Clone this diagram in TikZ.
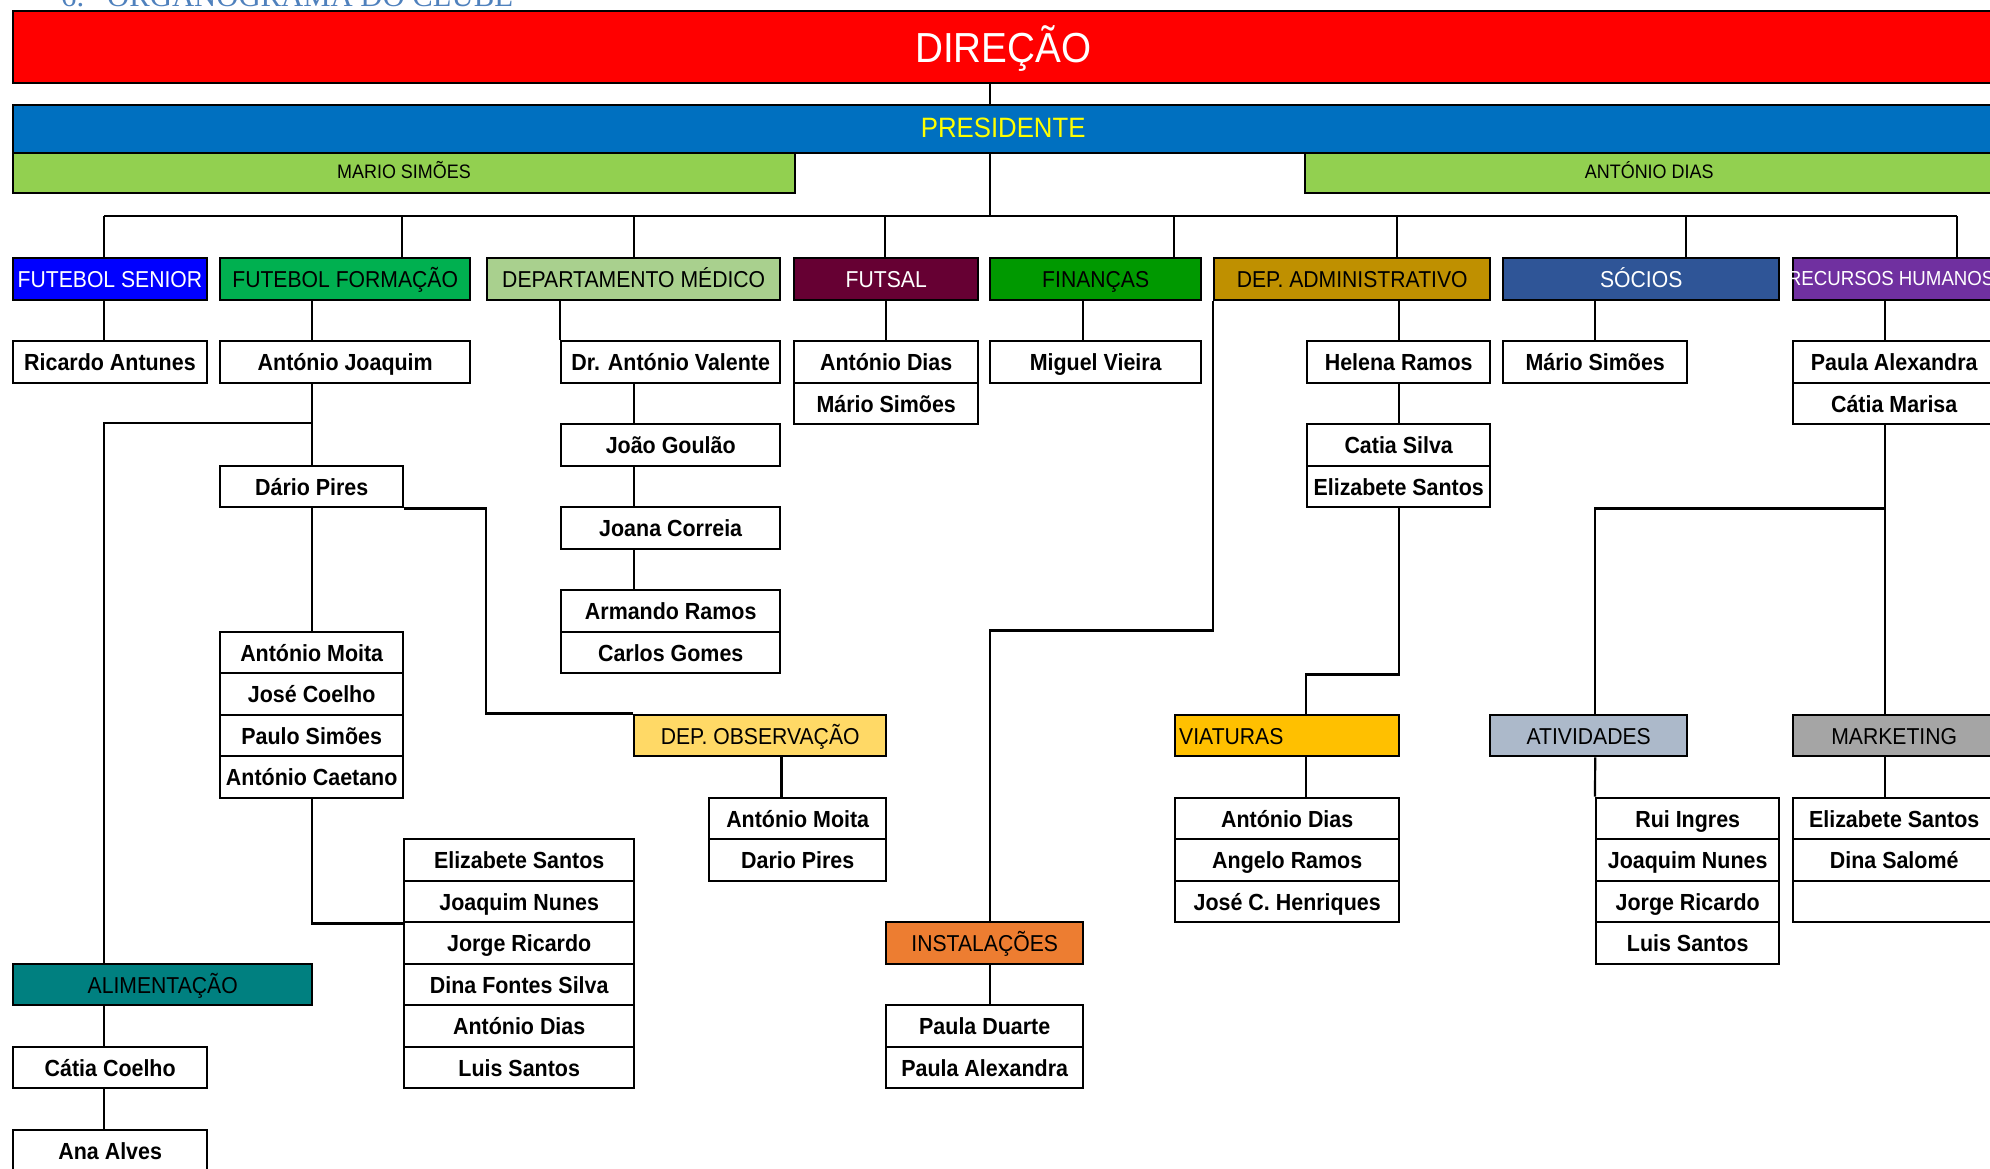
\documentclass[tikz,border=0pt]{standalone}
\usepackage{fontspec}
\setmainfont{Liberation Sans}[FakeStretch=0.92]
\newfontfamily\headfont{Liberation Serif}

\definecolor{titleblue}{HTML}{4F81BD}
\definecolor{dirred}{HTML}{FF0000}
\definecolor{presblue}{HTML}{0070C0}
\definecolor{presyellow}{HTML}{FFFF00}
\definecolor{vplime}{HTML}{92D050}
\definecolor{senblue}{HTML}{0000FF}
\definecolor{formgreen}{HTML}{00B050}
\definecolor{medgreen}{HTML}{A9D08E}
\definecolor{futsalred}{HTML}{660033}
\definecolor{fingreen}{HTML}{009900}
\definecolor{admgold}{HTML}{BF9000}
\definecolor{socblue}{HTML}{2F5597}
\definecolor{rhpurple}{HTML}{7030A0}
\definecolor{obsyellow}{HTML}{FFD966}
\definecolor{viatorange}{HTML}{FFC000}
\definecolor{ativgrey}{HTML}{ACB9CA}
\definecolor{mktgrey}{HTML}{A5A5A5}
\definecolor{instorange}{HTML}{ED7D31}
\definecolor{aliteal}{HTML}{008080}

\newcommand{\orgname}{\fontsize{23.3}{26}\selectfont\bfseries}
\newcommand{\orgunit}{\fontsize{23}{26}\selectfont}

\begin{document}
\begin{tikzpicture}[x=1pt,y=-1pt,
    box/.style={draw,line width=2.4pt,inner sep=0pt,anchor=north west,minimum height=41.5pt,text height=19pt,text depth=1pt},
    band/.style={box,text height=#1},
    person/.style={box,fill=white,font=\orgname},
    unit/.style={box,font=\orgunit},
    link/.style={line width=2.2pt}]
  \useasboundingbox (0,0) rectangle (1990,1168);
  \clip (0,0) rectangle (1990,1168);

  % heading (cut by the page top)
  \node[anchor=base west,inner sep=0pt,text=titleblue,font=\headfont\fontsize{30.7}{32}\selectfont] (title) at (61,6) {6.\hspace{23pt}ORGANOGRAMA DO CLUBE};

  % top bands
  \node[band=31pt,text depth=0pt,fill=dirred,minimum width=1981pt,minimum height=72pt,text=white,font=\fontsize{42}{44}\selectfont] (dir) at (11.5,10) {DIREÇÃO};
  \node[band=20pt,text depth=2.6pt,fill=presblue,minimum width=1981pt,minimum height=48pt,text=presyellow,font=\fontsize{28}{30}\selectfont] (pres) at (11.5,104) {PRESIDENTE};
  \node[band=14pt,text depth=4pt,fill=vplime,minimum width=782.5pt,minimum height=40pt,font=\fontsize{19.5}{21}\selectfont] (vpms) at (11.5,152) {MARIO SIMÕES};
  \node[band=14pt,text depth=4pt,fill=vplime,minimum width=688pt,minimum height=40pt,font=\fontsize{19.5}{21}\selectfont] (vpad) at (1304,152) {ANTÓNIO DIAS};

  % departments
  \node[unit,fill=senblue,text=white,minimum width=194.5pt] (fsen) at (11.5,257) {FUTEBOL SENIOR};
  \node[unit,fill=formgreen,minimum width=250pt] (fform) at (219,257) {FUTEBOL FORMAÇÃO};
  \node[unit,fill=medgreen,minimum width=293pt] (dmed) at (486,257) {DEPARTAMENTO MÉDICO};
  \node[unit,fill=futsalred,text=white,minimum width=184pt] (futsal) at (793,257) {FUTSAL};
  \node[unit,fill=fingreen,minimum width=211pt] (fin) at (989,257) {FINANÇAS};
  \node[unit,fill=admgold,minimum width=276pt] (adm) at (1213,257) {DEP. ADMINISTRATIVO};
  \node[unit,fill=socblue,text=white,minimum width=276pt] (soc) at (1502,257) {SÓCIOS};
  \node[unit,fill=rhpurple,minimum width=202pt] (rh) at (1792,257) {};
  \begin{scope}
    \clip (rh.north west) rectangle (rh.south east);
    \node[text=white,font=\fontsize{20.3}{22}\selectfont] (rhlabel) at ([xshift=-3pt]rh.center) {RECURSOS HUMANOS};
  \end{scope}

  % sub-units
  \node[unit,fill=obsyellow,minimum width=252pt] (obs) at (633,713.5) {DEP. OBSERVAÇÃO};
  \node[unit,fill=viatorange,inner xsep=4pt,text width=216pt,align=left] (viat) at (1174,713.5) {VIATURAS};
  \node[unit,fill=ativgrey,minimum width=197pt] (ativ) at (1489,713.5) {ATIVIDADES};
  \node[unit,fill=mktgrey,minimum width=202pt] (mkt) at (1792,713.5) {MARKETING};
  \node[unit,fill=instorange,minimum width=197pt] (inst) at (885,921) {INSTALAÇÕES};
  \node[unit,fill=aliteal,minimum width=299pt] (ali) at (12,962.5) {ALIMENTAÇÃO};

  % people
  \node[person,minimum width=194.5pt] (ricardo) at (11.5,340) {Ricardo Antunes};
  \node[person,minimum width=250pt] (ajoaquim) at (219,340) {António Joaquim};
  \node[person,minimum width=219pt] (valente) at (560,340) {Dr. António Valente};
  \node[person,minimum width=184pt] (fsdias) at (793,340) {António Dias};
  \node[person,minimum width=184pt] (fsmario) at (793,381.5) {Mário Simões};
  \node[person,minimum width=211pt] (mvieira) at (989,340) {Miguel Vieira};
  \node[person,minimum width=183pt] (hramos) at (1306,340) {Helena Ramos};
  \node[person,minimum width=184pt] (msoc) at (1502,340) {Mário Simões};
  \node[person,minimum width=202pt] (palex) at (1792,340) {Paula Alexandra};
  \node[person,minimum width=202pt] (cmarisa) at (1792,381.5) {Cátia Marisa};

  \node[person,minimum width=219pt] (goulao) at (560,423) {João Goulão};
  \node[person,minimum width=219pt] (joana) at (560,506) {Joana Correia};
  \node[person,minimum width=219pt] (armando) at (560,589) {Armando Ramos};
  \node[person,minimum width=219pt] (cgomes) at (560,630.5) {Carlos Gomes};

  \node[person,minimum width=183pt] (dario) at (219,464.5) {Dário Pires};
  \node[person,minimum width=183pt] (amoita) at (219,630.5) {António Moita};
  \node[person,minimum width=183pt] (jcoelho) at (219,672) {José Coelho};
  \node[person,minimum width=183pt] (psimoes) at (219,713.5) {Paulo Simões};
  \node[person,minimum width=183pt] (acaetano) at (219,755) {António Caetano};

  \node[person,minimum width=230pt] (es1) at (403,838) {Elizabete Santos};
  \node[person,minimum width=230pt] (jn1) at (403,879.5) {Joaquim Nunes};
  \node[person,minimum width=230pt] (jr1) at (403,921) {Jorge Ricardo};
  \node[person,minimum width=230pt] (dfs) at (403,962.5) {Dina Fontes Silva};
  \node[person,minimum width=230pt] (ad1) at (403,1004) {António Dias};
  \node[person,minimum width=230pt] (ls1) at (403,1045.5) {Luis Santos};

  \node[person,minimum width=177pt] (obsmoita) at (708,796.5) {António Moita};
  \node[person,minimum width=177pt] (obsdario) at (708,838) {Dario Pires};

  \node[person,minimum width=197pt] (pduarte) at (885,1004) {Paula Duarte};
  \node[person,minimum width=197pt] (palex2) at (885,1045.5) {Paula Alexandra};

  \node[person,minimum width=194pt] (ccoelho) at (12,1045.5) {Cátia Coelho};
  \node[person,minimum width=194pt] (aalves) at (12,1128.5) {Ana Alves};

  \node[person,minimum width=183pt] (csilva) at (1306,423) {Catia Silva};
  \node[person,minimum width=183pt] (eadm) at (1306,464.5) {Elizabete Santos};

  \node[person,minimum width=224pt] (vdias) at (1174,796.5) {António Dias};
  \node[person,minimum width=224pt] (aramos) at (1174,838) {Angelo Ramos};
  \node[person,minimum width=224pt] (jch) at (1174,879.5) {José C. Henriques};

  \node[person,minimum width=183pt] (rui) at (1595,796.5) {Rui Ingres};
  \node[person,minimum width=183pt] (jn2) at (1595,838) {Joaquim Nunes};
  \node[person,minimum width=183pt] (jr2) at (1595,879.5) {Jorge Ricardo};
  \node[person,minimum width=183pt] (ls2) at (1595,921) {Luis Santos};

  \node[person,minimum width=202pt] (es2) at (1792,796.5) {Elizabete Santos};
  \node[person,minimum width=202pt] (dsalome) at (1792,838) {Dina Salomé};
  \node[person,minimum width=202pt] (mktblank) at (1792,879.5) {};

  % spine and bus
  \coordinate (hub) at (990,216);
  \coordinate (d1) at (104,216);
  \coordinate (d2) at (402,216);
  \coordinate (d3) at (634,216);
  \coordinate (d4) at (885,216);
  \coordinate (d5) at (1174,216);
  \coordinate (d6) at (1397,216);
  \coordinate (d7) at (1686,216);
  \coordinate (d8) at (1957,216);
  \draw[link] (hub |- dir.south) -- (hub |- pres.north);
  \draw[link] (hub |- pres.south) -- (hub);
  \draw[link] (d1) -- (d8);
  \draw[link] (d1) -- (d1 |- fsen.north);
  \draw[link] (d2) -- (d2 |- fform.north);
  \draw[link] (d3) -- (d3 |- dmed.north);
  \draw[link] (d4) -- (d4 |- futsal.north);
  \draw[link] (d5) -- (d5 |- fin.north);
  \draw[link] (d6) -- (d6 |- adm.north);
  \draw[link] (d7) -- (d7 |- soc.north);
  \draw[link] (d8) -- (d8 |- rh.north);

  % futebol senior and alimentacao
  \draw[link] (d1 |- fsen.south) -- (d1 |- ricardo.north);
  \draw[link] ([yshift=41.5pt]dario.north) -| (d1 |- ali.north);
  \draw[link] (d1 |- ali.south) -- (d1 |- ccoelho.north);
  \draw[link] (d1 |- ccoelho.south) -- (d1 |- aalves.north);

  % futebol formacao
  \draw[link] (dario.north |- fform.south) -- (dario.north |- ajoaquim.north);
  \draw[link] (dario.north |- ajoaquim.south) -- (dario.north);
  \draw[link] (dario.south) -- (amoita.north);
  \draw[link] (dario.south east) -| (dmed.west |- obs.north) -- (obs.north west);
  \draw[link] (acaetano.south) |- (jn1.south west);
  \draw[link] (obs.south -| valente.east) -- (obsmoita.north -| valente.east);

  % departamento medico
  \draw[link] (valente.north west |- dmed.south) -- (valente.north west);
  \draw[link] (d3 |- valente.south) -- (d3 |- goulao.north);
  \draw[link] (d3 |- goulao.south) -- (d3 |- joana.north);
  \draw[link] (d3 |- joana.south) -- (d3 |- armando.north);

  % futsal, financas, socios
  \draw[link] (futsal.south) -- (fsdias.north);
  \draw[link] ([xshift=-12.5pt]fin.south) -- ([xshift=-12.5pt]mvieira.north);
  \draw[link] (msoc.north |- soc.south) -- (msoc.north);

  % dep. administrativo
  \draw[link] (hramos.north |- adm.south) -- (hramos.north);
  \draw[link] (hramos.south) -- (csilva.north);
  \draw[link] (eadm.south) -- ++(0,166) -| (viat.north -| hramos.west);
  \draw[link] (viat.south -| hramos.west) -- (vdias.north -| hramos.west);
  \draw[link] (adm.south west) |- (hub |- amoita.north) -- (hub |- inst.north);
  \draw[link] (hub |- inst.south) -- (hub |- pduarte.north);

  % recursos humanos
  \draw[link] ([xshift=-9pt]rh.south) -- ([xshift=-9pt]palex.north);
  \draw[link] ([xshift=-9pt]cmarisa.south) -- ([xshift=-9pt]mkt.north);
  \draw[link] ([xshift=-9pt,yshift=-83pt]cmarisa.south) -| (ativ.north -| msoc.north);
  \draw[link] (ativ.south -| msoc.north) -- (rui.north west);
  \draw[link] ([xshift=-9pt]mkt.south) -- ([xshift=-9pt]es2.north);
\end{tikzpicture}
\end{document}
